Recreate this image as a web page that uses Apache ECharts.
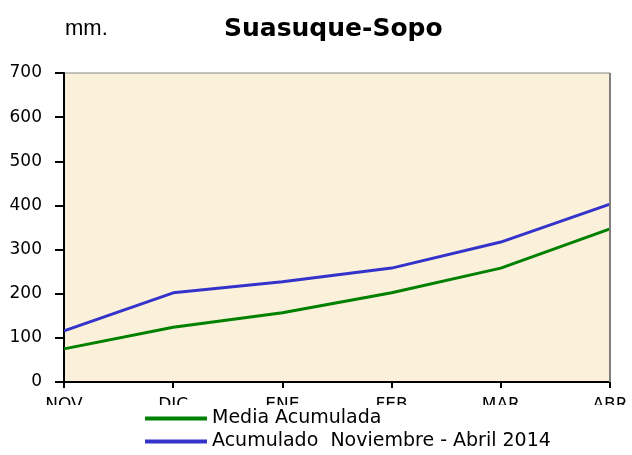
<!DOCTYPE html>
<html>
<head>
<meta charset="utf-8">
<script src="https://cdn.jsdelivr.net/npm/echarts@6/dist/echarts.min.js"></script>
<style>
  html, body { margin: 0; padding: 0; background: #fff; }
  #chart { width: 632px; height: 455px; }
</style>
</head>
<body>
<div id="chart"></div>
<script>
// meses del periodo
var months = ['NOV', 'DIC', 'ENE', 'FEB', 'MAR', 'ABR'];
// valores acumulados (mm)
var mediaAcumulada = [75, 124, 157, 202, 258, 347];
var acumulado2014 = [116, 202, 227, 258, 317, 403];
var yTicks = [0, 100, 200, 300, 400, 500, 600, 700];
var seriesNames = ['Media Acumulada', 'Acumulado  Noviembre - Abril 2014'];

var font = '"DejaVu Sans", sans-serif';
var narrow = '"Liberation Sans", Arial, sans-serif';
var chart = echarts.init(document.getElementById('chart'));

function legendAt(name, top) {
  return {
    orient: 'vertical',
    left: 145, top: top,
    padding: 0,
    z: 20,
    itemWidth: 62, itemHeight: 4,
    icon: 'rect',
    textStyle: { fontFamily: font, fontSize: 19, color: '#000', padding: [0, 0, 0, 0] },
    data: [name]
  };
}

var option = {
  backgroundColor: '#ffffff',
  animation: false,
  title: [
    {
      text: 'Suasuque-Sopo',
      left: 224, top: 17,
      padding: 0,
      textStyle: { fontFamily: font, fontSize: 25, fontWeight: 'bold', color: '#000' }
    },
    {
      text: 'mm.',
      left: 65, top: 18,
      padding: 0,
      textStyle: { fontFamily: narrow, fontSize: 22, fontWeight: 'normal', color: '#000' }
    }
  ],
  grid: {
    left: 64, right: 22, top: 73, bottom: 73,
    show: true,
    backgroundColor: '#fbf0d9',
    borderColor: '#8a8a8a',
    borderWidth: 1
  },
  graphic: [
    // right edge of the plot frame, slightly heavier
    { type: 'rect', z: 5, shape: { x: 609, y: 73, width: 2, height: 309 }, style: { fill: '#808080' } },
    // white band that hides the lower half of the month labels
    { type: 'rect', z: 10, shape: { x: 0, y: 405, width: 632, height: 50 }, style: { fill: '#ffffff' } }
  ],
  legend: [legendAt(seriesNames[0], 409), legendAt(seriesNames[1], 432)],
  xAxis: {
    type: 'category',
    boundaryGap: false,
    data: months,
    axisLine: { lineStyle: { color: '#000', width: 2 } },
    axisTick: { show: true, length: 6, inside: false, lineStyle: { color: '#000', width: 2 } },
    axisLabel: { fontFamily: font, fontSize: 17, color: '#000', margin: 15 },
    splitLine: { show: false }
  },
  yAxis: {
    type: 'value',
    min: yTicks[0],
    max: yTicks[yTicks.length - 1],
    interval: 100,
    axisLine: { show: true, lineStyle: { color: '#000', width: 2 } },
    axisTick: { show: true, length: 9, lineStyle: { color: '#000', width: 2 } },
    axisLabel: { fontFamily: font, fontSize: 17, color: '#000', margin: 22 },
    splitLine: { show: false }
  },
  series: [
    {
      name: seriesNames[0],
      type: 'line',
      data: mediaAcumulada,
      color: '#008000',
      symbol: 'none',
      lineStyle: { color: '#008000', width: 3 }
    },
    {
      name: seriesNames[1],
      type: 'line',
      data: acumulado2014,
      color: '#3333cc',
      symbol: 'none',
      lineStyle: { color: '#3333cc', width: 3 }
    }
  ]
};

chart.setOption(option);
</script>
</body>
</html>
